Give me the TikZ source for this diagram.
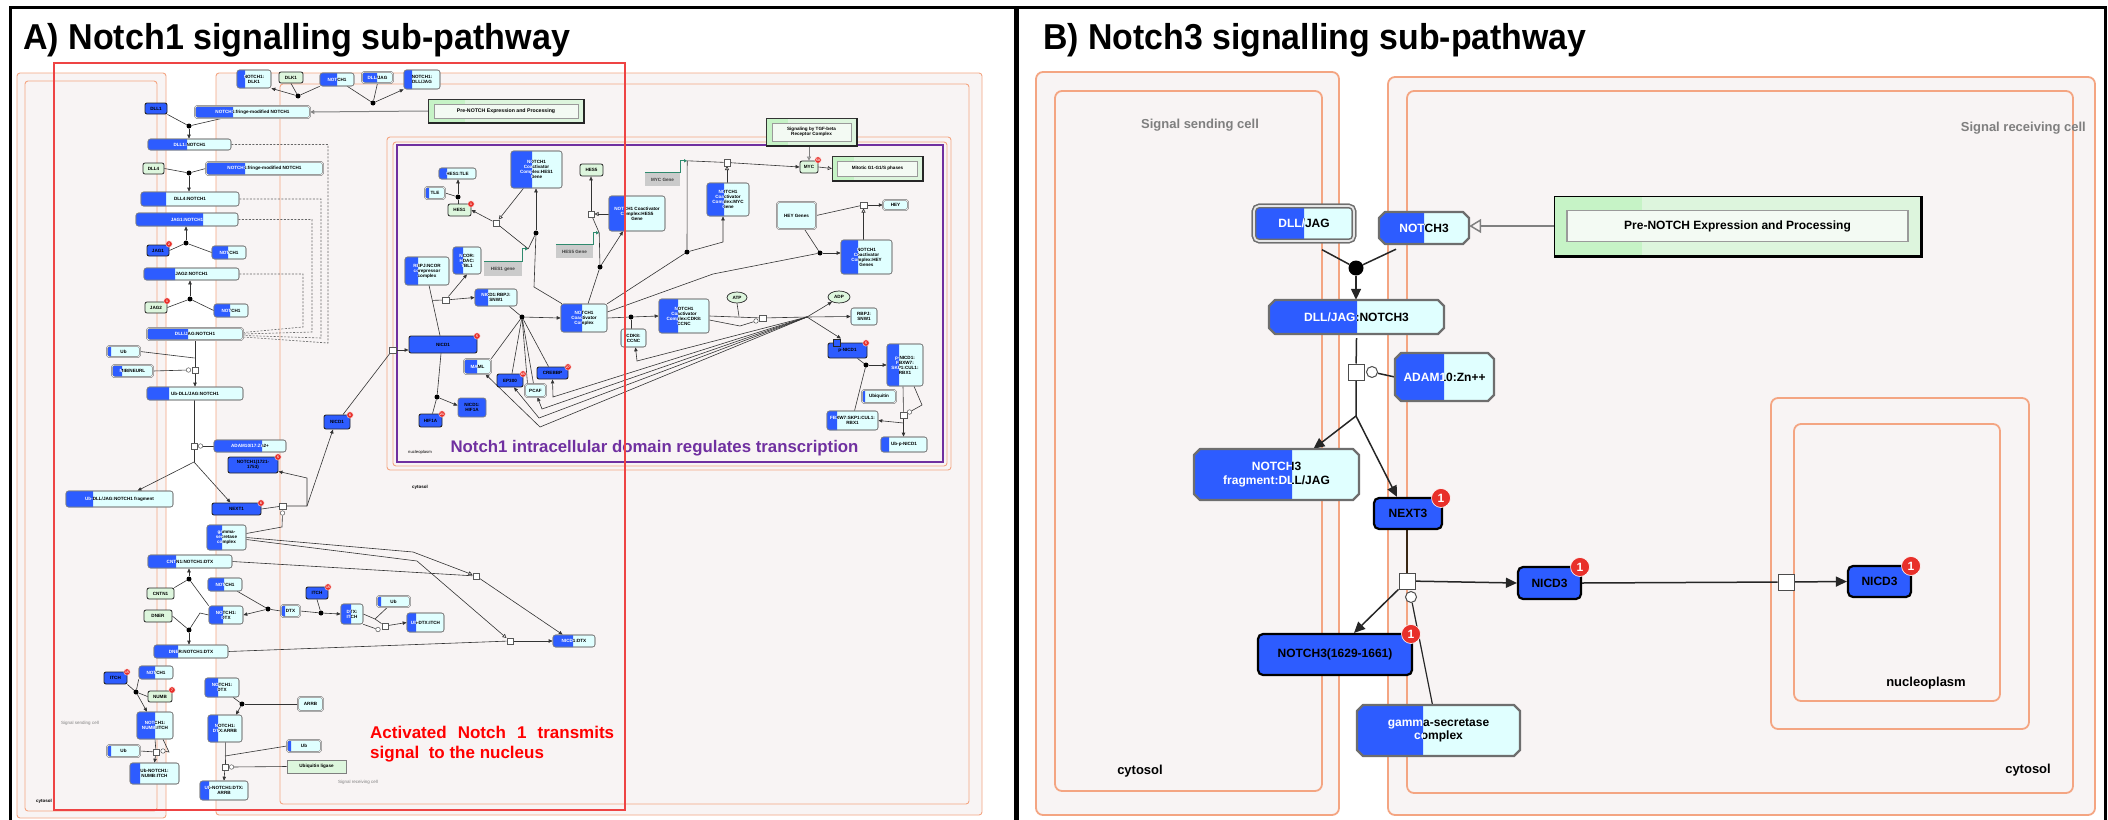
\documentclass[tikz,border=0pt]{standalone}
\usepackage{graphicx}
\usepackage{fontspec}
\setmainfont{Liberation Sans}
\usetikzlibrary{arrows.meta,shapes.misc,shapes.geometric,calc}
\pgfdeclarelayer{comps}
\pgfdeclarelayer{links}
\pgfsetlayers{comps,links,main}

\definecolor{nblue}{HTML}{2D5CFF}
\definecolor{ncyan}{HTML}{E0FFFF}
\definecolor{ngreen}{HTML}{DDF6DD}
\definecolor{egray}{HTML}{7F7F7F}
\definecolor{bgray}{HTML}{6E6E6E}
\definecolor{corange}{HTML}{F4A582}
\definecolor{cfill}{HTML}{F8F4F4}
\definecolor{bred}{HTML}{E8302A}
\definecolor{npurple}{HTML}{7030A0}
\definecolor{annred}{HTML}{EE4444}
\definecolor{genegray}{HTML}{CBCBCB}
\definecolor{flaggreen}{HTML}{2F8A6E}
\definecolor{pwa}{HTML}{C6F3C6}
\definecolor{pwb}{HTML}{DDF5DD}
\definecolor{pwi}{HTML}{F3FAF3}
\definecolor{pwig}{HTML}{9A9A9A}
\definecolor{lblgray}{HTML}{7F7F7F}

% complex / set: light body, blue left part, text white over blue, dark over light
\newcommand\ent[9]{%
  \node[#2,minimum width=#5pt,minimum height=#6pt] (#1) at (#3,#4) {};
  \begin{scope}
    \clip ({#3-#5/2-3},{#4-#6/2-3}) rectangle ({#3-#5/2+#7},{#4+#6/2+3});
    \node[#2,fill=nblue,draw=none,minimum width=#5pt,minimum height=#6pt] at (#3,#4) {};
    \node[#9,text=white] at (#3,#4) {#8};
  \end{scope}
  \begin{scope}
    \clip ({#3-#5/2+#7},{#4-#6/2-3}) rectangle ({#3+#5/2+3},{#4+#6/2+3});
    \node[#9] at (#3,#4) {#8};
  \end{scope}
  \node[#2,fill=none,minimum width=#5pt,minimum height=#6pt] at (#3,#4) {};
}
% octagonal outline, centre (#1,#2), size #3 x #4, corner cut 6
\newcommand\octpath[4]{({#1-#3/2+6},{#2-#4/2}) -- ({#1+#3/2-6},{#2-#4/2}) -- ({#1+#3/2},{#2-#4/2+6}) -- ({#1+#3/2},{#2+#4/2-6}) -- ({#1+#3/2-6},{#2+#4/2}) -- ({#1-#3/2+6},{#2+#4/2}) -- ({#1-#3/2},{#2+#4/2-6}) -- ({#1-#3/2},{#2-#4/2+6}) -- cycle}
% octagonal complex
\newcommand\oent[8]{%
  \node[rectangle,draw=none,inner sep=0pt,minimum width=#5pt,minimum height=#6pt] (#1) at (#3,#4) {};
  \fill[ncyan] \octpath{#3}{#4}{#5}{#6};
  \begin{scope}
    \clip ({#3-#5/2-3},{#4-#6/2-3}) rectangle ({#3-#5/2+#7},{#4+#6/2+3});
    \fill[nblue] \octpath{#3}{#4}{#5}{#6};
    \node[btxt,text=white] at (#3,#4) {#8};
  \end{scope}
  \begin{scope}
    \clip ({#3-#5/2+#7},{#4-#6/2-3}) rectangle ({#3+#5/2+3},{#4+#6/2+3});
    \node[btxt] at (#3,#4) {#8};
  \end{scope}
  \draw[#2] \octpath{#3}{#4}{#5}{#6};
}
% plain entity
\newcommand\prot[7]{%
  \node[#2,minimum width=#5pt,minimum height=#6pt] (#1) at (#3,#4) {#7};
}
% count badge
\newcommand\badge[4]{\node[#1] at (#2,#3) {#4};}
% pathway box
\newcommand\pwbox[9]{%
  \node[rectangle,fill=pwb,draw=none,inner sep=0pt,minimum width=#4pt,minimum height=#5pt] (#1) at (#2,#3) {};
  \fill[pwa] ({#2-#4/2},{#3-#5/2}) rectangle ({#2-#4/2+#4*0.24},{#3+#5/2});
  \draw[pwedge] ({#2-#4/2},{#3-#5/2}) rectangle ({#2+#4/2},{#3+#5/2});
  \draw[pwshadow] ({#2+#4/2},{#3-#5/2}) -- ({#2+#4/2},{#3+#5/2}) -- ({#2-#4/2},{#3+#5/2});
  \node[rectangle,draw=pwig,fill=pwi,inner sep=0pt,minimum width=#6pt,minimum height=#7pt,#9] at (#2,#3) {#8};
}

\tikzset{
  % panel A
  acomp/.style={draw=corange,fill=cfill,line width=0.9pt,rounded corners=3pt},
  atxt/.style={font=\fontsize{4.6}{5}\selectfont\bfseries,align=center,inner sep=0pt,text=black},
  abox/.style={rectangle,rounded corners=2.5pt,draw=egray,line width=0.6pt,fill=ncyan,inner sep=0pt},
  aset/.style={abox,double=white,double distance=0.5pt,line width=0.5pt},
  aprot/.style={rectangle,rounded corners=2pt,draw=black!85,line width=0.9pt,fill=nblue,inner sep=0pt,atxt},
  aprotg/.style={rectangle,rounded corners=2.5pt,draw=egray,line width=0.8pt,fill=nblue,inner sep=0pt,atxt},
  agreen/.style={rectangle,rounded corners=2pt,draw=black!85,line width=0.8pt,fill=ngreen,inner sep=0pt,atxt},
  agreenL/.style={rectangle,draw=egray,line width=0.7pt,fill=ngreen,inner sep=0pt,atxt},
  aell/.style={ellipse,draw=black!85,line width=0.7pt,fill=ngreen,inner sep=0pt,atxt},
  gene/.style={rectangle,fill=genegray,draw=none,inner sep=0pt,atxt,text=black!75},
  flag/.style={draw=flaggreen,line width=0.8pt,-{Triangle[open,length=3pt,width=3pt]}},
  abadge/.style={circle,fill=bred,draw=white,line width=0.3pt,inner sep=0pt,minimum size=6.5pt,text=white,font=\fontsize{3.4}{3.4}\selectfont\bfseries},
  adot/.style={circle,fill=black,inner sep=0pt,minimum size=5pt},
  asq/.style={rectangle,draw=black!65,fill=white,line width=0.5pt,inner sep=0pt,minimum size=6.5pt},
  acirc/.style={circle,draw=black!65,fill=white,line width=0.5pt,inner sep=0pt,minimum size=4.5pt},
  aln/.style={draw=black!80,line width=0.6pt},
  aar/.style={aln,-{Triangle[length=4pt,width=3.4pt]}},
  aopen/.style={aln,-{Triangle[open,length=4pt,width=4pt]}},
  adash/.style={draw=black!60,line width=0.6pt,dash pattern=on 2pt off 1.5pt},
  alabel/.style={font=\fontsize{4.5}{5}\selectfont,text=lblgray,inner sep=0pt},
  apwtxt/.style={atxt,line width=0.5pt},
  apretxt/.style={atxt,font=\fontsize{5.2}{5.6}\selectfont\bfseries,line width=0.5pt},
  % panel B
  bcomp/.style={draw=corange,fill=cfill,line width=1.8pt,rounded corners=7pt},
  btxt/.style={font=\fontsize{12}{13.5}\selectfont\bfseries,align=center,inner sep=0pt,text=black},
  boct/.style={draw=bgray,line width=2.4pt,line join=round},
  bset/.style={rectangle,rounded corners=5pt,draw=bgray,line width=1.4pt,double=white!80!gray,double distance=1.8pt,fill=ncyan,inner sep=0pt},
  bprot/.style={rectangle,rounded corners=5pt,draw=black,line width=2.2pt,fill=nblue,inner sep=0pt,btxt},
  bbadge/.style={circle,fill=bred,draw=white,line width=0.6pt,inner sep=0pt,minimum size=19pt,text=white,font=\fontsize{12}{12}\selectfont\bfseries},
  bdot/.style={circle,fill=black,inner sep=0pt,minimum size=15pt},
  bsq/.style={rectangle,draw=black!70,fill=white,line width=1pt,inner sep=0pt,minimum size=16pt},
  bcirc/.style={circle,draw=black!70,fill=white,line width=1pt,inner sep=0pt,minimum size=11pt},
  bln/.style={draw=black!85,line width=1.5pt},
  bar/.style={bln,-{Triangle[length=11pt,width=10pt]}},
  bopen/.style={draw=gray,line width=2.6pt,-{Triangle[open,length=12pt,width=14pt,line width=1.5pt]}},
  blbl/.style={font=\fontsize{13}{14}\selectfont\bfseries,inner sep=0pt},
  bpwtxt/.style={btxt,line width=1.4pt},
}

\begin{document}
\begin{tikzpicture}[x=1pt,y=-1pt]
\useasboundingbox (0,0) rectangle (2108,819);

% ---------------- compartments ----------------
\begin{pgfonlayer}{comps}
  \fill[white] (0,0) rectangle (2108,819);
  % panel A
  \draw[acomp] (17,73) rectangle (166,818);
  \draw[acomp] (25,81) rectangle (157,811);
  \draw[acomp] (216,73) rectangle (982,815);
  \draw[acomp] (280,84) rectangle (969,804);
  \draw[acomp] (387,137) rectangle (951,470);
  \draw[acomp] (393,142) rectangle (947,466);
  \draw[draw=npurple,line width=1.3pt] (397,145) rectangle (943,462);
  % panel B
  \draw[bcomp] (1036,72) rectangle (1339,815);
  \draw[bcomp] (1055,91) rectangle (1322,791);
  \draw[bcomp] (1388,77) rectangle (2095,815);
  \draw[bcomp] (1407,91) rectangle (2073,793);
  \draw[bcomp] (1771,398) rectangle (2029,729);
  \draw[bcomp] (1794,424) rectangle (2000,701);
\end{pgfonlayer}

% frames
\draw[line width=3pt] (10,830) -- (10,7) -- (2105,7) -- (2105,830);
\draw[line width=5pt] (1016,7) -- (1016,830);

% titles
\node[anchor=base west,inner sep=0pt] (ttlA) at (23,49.5)
  {\scalebox{0.946}[1]{\fontsize{36}{36}\selectfont\bfseries A) Notch1 signalling sub-pathway}};
\node[anchor=base west,inner sep=0pt] (ttlB) at (1043,49.5)
  {\scalebox{0.94}[1]{\fontsize{36}{36}\selectfont\bfseries B) Notch3 signalling sub-pathway}};

% ---------------- panel A labels ----------------
\node[alabel] (lA1) at (80,723) {Signal sending cell};
\node[alabel,text=black,font=\fontsize{4.5}{5}\selectfont\bfseries] (lA2) at (44,801) {cytosol};
\node[alabel] (lA3) at (358,782) {Signal receiving cell};
\node[alabel,text=black,font=\fontsize{4.5}{5}\selectfont\bfseries] (lA4) at (420,487) {cytosol};
\node[alabel,text=black,font=\fontsize{4.2}{5}\selectfont] (lA5) at (420,452) {nucleoplasm};
\node[anchor=base,inner sep=0pt,text=npurple,font=\fontsize{16.8}{18}\selectfont\bfseries] (ttlN) at (654.5,452)
  {Notch1 intracellular domain regulates transcription};

% ---------------- panel A entities ----------------
\ent{aN1DLK1}{abox}{254}{79}{34}{18}{8}{NOTCH1:\\DLK1}{atxt}
\prot{aDLK1}{agreen}{291}{77.5}{24}{11}{DLK1}
\ent{aN1a}{abox}{337}{79.5}{34}{13}{17}{NOTCH1}{atxt}
\ent{aDJa}{aset}{377.5}{77.5}{31}{11}{15}{DLL/JAG}{atxt}
\ent{aN1DJ}{abox}{422}{79.5}{36}{19}{8}{NOTCH1:\\DLL/JAG}{atxt}
\ent{aFr1}{aset}{252.5}{112}{115}{12}{38}{NOTCH1:fringe-modified NOTCH1}{atxt}
\begin{scope}[pwedge/.style={draw=black!80,line width=0.5pt},pwshadow/.style={draw=black!85,line width=1.3pt}]
  \pwbox{aPre}{506}{111}{156}{24}{144}{14}{Pre-NOTCH Expression and Processing}{apretxt}
  \pwbox{aTGF}{811.5}{132}{91}{28}{79}{18}{Signaling by TGF-beta\\Receptor Complex}{apwtxt}
  \pwbox{aMit}{877.5}{168.5}{91}{25}{80}{15}{Mitotic G1-G1/S phases}{apwtxt}
\end{scope}
\prot{aDLL1}{aprot}{156}{108.5}{22}{11}{DLL1}
\ent{aDLL1N1}{abox}{189.5}{144.5}{83}{11}{39}{DLL1:NOTCH1}{atxt}
\prot{aDLL4}{agreen}{153.5}{168.5}{21}{11}{DLL4}
\ent{aFr2}{aset}{264.5}{168.5}{117}{13}{39}{NOTCH1:fringe-modified NOTCH1}{atxt}
\ent{aDLL4N1}{abox}{190}{199}{98}{14}{25}{DLL4:NOTCH1}{atxt}
\ent{aJAG1N1}{abox}{187}{219.5}{102}{13}{67}{JAG1:NOTCH1}{atxt}
\prot{aJAG1}{aprot}{158}{250.5}{22}{11}{JAG1}
\ent{aN1b}{abox}{229}{252.5}{34}{13}{16}{NOTCH1}{atxt}
\ent{aJAG2N1}{abox}{191.5}{274}{95}{12}{31}{JAG2:NOTCH1}{atxt}
\prot{aJAG2}{agreen}{156}{307.5}{22}{11}{JAG2}
\ent{aN1c}{abox}{231}{310.5}{34}{13}{16}{NOTCH1}{atxt}
\ent{aDJN1}{aset}{195}{334}{96}{12}{41}{DLL/JAG:NOTCH1}{atxt}
\ent{aUb1}{aset}{123.5}{351.5}{33}{11}{4}{Ub}{atxt}
\ent{aMIB}{aset}{132.5}{371}{41}{12}{10}{MIB/NEURL}{atxt}
\ent{aUbDJN1}{abox}{195}{393.5}{96}{13}{22}{Ub-DLL/JAG:NOTCH1}{atxt}
\ent{aADAM}{abox}{250}{446}{72}{12}{48}{ADAM10/17:Zn2+}{atxt}
\prot{aN1721}{aprot}{253}{465}{50}{16}{NOTCH1(1721-\\1753)}
\ent{aUbFrag}{abox}{119.5}{499}{107}{16}{27}{Ub-DLL/JAG:NOTCH1 fragment}{atxt}
\prot{aNEXT1}{aprot}{236.5}{509}{49}{12}{NEXT1}
\prot{aNICD1c}{aprot}{337}{422}{26}{14}{NICD1}
\ent{aGS}{abox}{226.5}{537.5}{39}{25}{15}{gamma-\\secretase\\complex}{atxt}
\ent{aCNDTX}{abox}{190}{561.5}{84}{13}{28}{CNTN1:NOTCH1:DTX}{atxt}
\prot{aCNTN1}{agreen}{160.5}{593.5}{27}{11}{CNTN1}
\ent{aN1d}{abox}{225}{584.5}{34}{13}{16}{NOTCH1}{atxt}
\ent{aN1DTX}{abox}{226}{615}{34}{18}{14}{NOTCH1:\\DTX}{atxt}
\ent{aDTX}{aset}{290.5}{611}{19}{12}{4}{DTX}{atxt}
\prot{aITCH1}{aprot}{317}{593}{22}{12}{ITCH}
\ent{aDTXITCH}{abox}{352}{614}{22}{20}{10}{DTX:\\ITCH}{atxt}
\ent{aUb2}{aset}{393.5}{601.5}{33}{11}{4}{Ub}{atxt}
\ent{aUbDTXITCH}{abox}{425.5}{622.5}{37}{19}{9}{Ub-DTX:ITCH}{atxt}
\prot{aDNER}{agreen}{158}{616}{28}{12}{DNER}
\ent{aDNDTX}{abox}{191}{651.5}{74}{13}{24}{DNER:NOTCH1:DTX}{atxt}
\ent{aNICDDTX}{abox}{574}{641}{42}{12}{20}{NICD1:DTX}{atxt}
\prot{aITCH2}{aprot}{115.5}{678}{23}{12}{ITCH}
\ent{aN1e}{abox}{156}{672.5}{34}{13}{16}{NOTCH1}{atxt}
\prot{aNUMB}{agreen}{160}{696.5}{24}{11}{NUMB}
\ent{aNNI}{abox}{155}{725.5}{36}{27}{18}{NOTCH1:\\NUMB:ITCH}{atxt}
\ent{aUb3}{aset}{123.5}{751}{33}{12}{4}{Ub}{atxt}
\ent{aUbNNI}{abox}{154.5}{773.5}{49}{21}{10}{Ub-NOTCH1:\\NUMB:ITCH}{atxt}
\ent{aN1DTX2}{abox}{222}{687.5}{34}{19}{13}{NOTCH1:\\DTX}{atxt}
\ent{aARRB}{aset}{310.5}{704}{25}{14}{0}{ARRB}{atxt}
\ent{aNDA}{abox}{225}{728.5}{34}{27}{10}{NOTCH1:\\DTX:ARRB}{atxt}
\ent{aUb4}{aset}{304}{746}{34}{12}{4}{Ub}{atxt}
\prot{aUbL}{agreenL}{316.5}{766.5}{59}{13}{Ubiquitin ligase}
\ent{aUbNDA}{abox}{224}{790.5}{48}{19}{9}{Ub-NOTCH1:DTX:\\ARRB}{atxt}

% nucleus
\ent{aHES1TLE}{abox}{457.5}{173.5}{37}{11}{8}{HES1:TLE}{atxt}
\ent{aTLE}{aset}{435}{193}{20}{12}{4}{TLE}{atxt}
\prot{aHES1}{agreen}{459.5}{210}{23}{12}{HES1}
\ent{aCCHES1}{abox}{536.5}{169.5}{51}{37}{21}{NOTCH1\\Coactivator\\Complex:HES1\\Gene}{atxt}
\prot{aHES1g}{gene}{503}{269}{38}{14}{HES1 gene}
\prot{aHES5}{agreen}{591.5}{170}{23}{12}{HES5}
\ent{aCCHES5}{abox}{637}{213.5}{56}{35}{16}{NOTCH1 Coactivator\\Complex:HES5\\Gene}{atxt}
\prot{aHES5g}{gene}{574.5}{251.5}{37}{13}{HES5 Gene}
\prot{aMYCg}{gene}{662.5}{179.5}{35}{13}{MYC Gene}
\ent{aRNC}{abox}{427}{271}{44}{28}{13}{RBPJ:NCOR\\corepressor\\complex}{atxt}
\ent{aNHT}{abox}{467}{260.5}{28}{27}{10}{NCOR:\\HDAC:\\TBL1}{atxt}
\ent{aNRS}{abox}{496}{297.5}{42}{17}{13}{NICD1:RBPJ:\\SNW1}{atxt}
\ent{aCC}{abox}{584}{318}{46}{28}{21}{NOTCH1\\Coactivator\\Complex}{atxt}
\ent{aCDK8}{abox}{633.5}{338}{25}{18}{0}{CDK8:\\CCNC}{atxt}
\ent{aCCCDK}{abox}{684}{316}{50}{34}{19}{NOTCH1\\Coactivator\\Complex:CDK8:\\CCNC}{atxt}
\prot{aNICD1n}{aprot}{443}{344.5}{68}{17}{NICD1}
\ent{aMAML}{aset}{477.5}{366.5}{27}{15}{13}{MAML}{atxt}
\prot{aEP300}{aprot}{510}{380.5}{26}{13}{EP300}
\ent{aPCAF}{aset}{535.5}{390.5}{21}{13}{0}{PCAF}{atxt}
\prot{aCREBBP}{aprot}{552.5}{373}{31}{12}{CREBBP}
\prot{aHIF1A}{aprot}{430.5}{420.5}{23}{13}{HIF1A}
\prot{aNH}{aprotg}{472}{407.5}{28}{19}{NICD1:\\HIF1A}
\prot{aATP}{aell}{737}{297.5}{20}{11}{ATP}
\prot{aADP}{aell}{839}{297}{22}{12}{ADP}
\ent{aRS}{abox}{864}{316.5}{26}{17}{0}{RBPJ:\\SNW1}{atxt}
\prot{apNICD1}{aprot}{847.5}{350.5}{39}{15}{p-NICD1}
\node[aprot,rounded corners=0pt,minimum size=7pt] (apP) at (837,342.5) {};
\ent{apNF}{abox}{905}{365}{36}{42}{12}{p-NICD1:\\FBXW7:\\SKP1:CUL1:\\RBX1}{atxt}
\ent{aUbq}{aset}{879}{396.5}{34}{13}{3}{Ubiquitin}{atxt}
\ent{aFSCR}{abox}{852.5}{420.5}{51}{19}{10}{FBXW7:SKP1:CUL1:\\RBX1}{atxt}
\ent{aUbpN}{abox}{904}{444.5}{46}{15}{8}{Ub-p-NICD1}{atxt}
\prot{aMYC}{agreen}{809}{167}{18}{12}{MYC}
\ent{aCCMYC}{abox}{728}{199.5}{42}{33}{17}{NOTCH1\\Coactivator\\Complex:MYC\\Gene}{atxt}
\ent{aHEYg}{aset}{796.5}{215.5}{39}{27}{0}{HEY Genes}{atxt}
\ent{aHEY}{aset}{895.5}{205}{25}{10}{0}{HEY}{atxt}
\ent{aCCHEY}{abox}{866.5}{257}{51}{34}{17}{NOTCH1\\Coactivator\\Complex:HEY\\Genes}{atxt}

% badges
\badge{abadge}{169}{244}{2}
\badge{abadge}{167}{301}{1}
\badge{abadge}{278}{457}{5}
\badge{abadge}{261}{503}{6}
\badge{abadge}{350}{415}{6}
\badge{abadge}{328}{587}{15}
\badge{abadge}{127}{672}{15}
\badge{abadge}{172}{690}{7}
\badge{abadge}{471}{204}{1}
\badge{abadge}{477}{336}{5}
\badge{abadge}{523}{374}{65}
\badge{abadge}{568}{367}{27}
\badge{abadge}{442}{414}{21}
\badge{abadge}{866}{343}{5}
\badge{abadge}{818}{160}{50}

% reaction glyphs A
\node[adot] (d1) at (298,96) {};
\node[adot] (d2) at (373,103) {};
\node[adot] (d3) at (189,126) {};
\node[adot] (d4) at (189,173) {};
\node[adot] (d5) at (186,243) {};
\node[adot] (d6) at (190,299) {};
\node[asq] (s1) at (195,370) {};
\node[acirc] (c1) at (188.5,370) {};
\node[asq] (s2) at (194,446) {};
\node[acirc] (c2) at (200.5,446) {};
\coordinate (b1) at (194,462);
\node[asq] (s3) at (282.5,506) {};
\node[acirc] (c3) at (282.5,513) {};
\coordinate (j1) at (307,506);
\node[asq] (sq4) at (476,576) {};
\node[asq] (sq5) at (510,641) {};
\node[adot] (d7) at (189,579) {};
\node[adot] (d8) at (268,609) {};
\node[adot] (d9) at (321,613) {};
\node[asq] (sq6) at (385,626) {};
\node[acirc] (c6) at (378,629.5) {};
\coordinate (j6) at (375,619);
\node[adot] (d10) at (189,630) {};
\node[adot] (d11) at (136,692) {};
\node[asq] (sq7) at (156,752) {};
\node[acirc] (c7) at (163,751) {};
\node[adot] (d12) at (242,704) {};
\node[asq] (sq8) at (225,767) {};
\node[acirc] (c8) at (231.5,767) {};
\coordinate (j8) at (225,756);
\node[adot] (d13) at (458,197) {};
\node[asq] (sq9) at (496,223) {};
\node[adot] (d14) at (536,233) {};
\node[asq] (sq10) at (591,214) {};
\node[adot] (d15) at (600,267) {};
\node[asq] (sq15) at (727,162.5) {};
\node[adot] (d20) at (687,252) {};
\node[asq] (sq16) at (863.5,205) {};
\node[adot] (d21) at (820,253) {};
\node[asq] (sq11) at (445.5,300) {};
\node[adot] (d16) at (522,317) {};
\node[adot] (d17) at (631,317) {};
\node[asq] (sq12) at (392.5,350) {};
\node[adot] (d18) at (437,397) {};
\coordinate (hub) at (807,317);
\node[asq] (sq13) at (762.5,318) {};
\node[acirc] (c13) at (756,321) {};
\node[adot] (d19) at (866,365) {};
\node[asq] (sq14) at (903.5,415) {};
\node[acirc] (c14) at (909.5,412) {};
\coordinate (j14) at (903.5,423);

% ---------------- panel A connectors ----------------
\begin{pgfonlayer}{links}
\draw[aln] (aDLK1.south) -- (d1);
\draw[aln] (aN1a.south west) -- (d1);
\draw[aar] (d1) -- (aN1DLK1.south east);
\draw[aln] ([xshift=-7pt]aN1a.south east) -- (d2);
\draw[aln] (aDJa.south) -- (d2);
\draw[aar] (d2) -- (aN1DJ.south west);
\draw[aopen,draw=gray,line width=1pt] (aPre.west) -- (aFr1.east);
\draw[aln] (aDLL1.south east) -- (d3);
\draw[aln] ([xshift=-30pt]aFr1.south) -- (d3);
\draw[aar] (d3) -- (aDLL1N1.north -| d3);
\draw[aln] (aDLL4.east) -- (d4);
\draw[aln] (aFr2.west) -- (d4);
\draw[aar] (d4) -- (aDLL4N1.north -| d4);
\draw[aln] (aJAG1.east) -- (d5);
\draw[aln] (aN1b.west) -- (d5);
\draw[aar] (d5) -- (aJAG1N1.south -| d5);
\draw[aln] (aJAG2.east) -- (d6);
\draw[aln] (aN1c.west) -- (d6);
\draw[aar] (d6) -- (aJAG2N1.south -| d6);
\draw[adash] (aDLL1N1.east) -| (328,343) -- ([yshift=-3pt]aDJN1.east);
\draw[adash] (aDLL4N1.east) -| (321,338) -- ([yshift=-1.5pt]aDJN1.east);
\draw[adash] (aJAG1N1.east) -| (312,332) -- (aDJN1.east);
\draw[adash] (aJAG2N1.east) -| (303,327) -- ([yshift=1.5pt]aDJN1.east);
\draw[aln] (aDJN1.south) -- (s1);
\draw[aln] (aUb1.east) -- (194.5,358);
\draw[aln] (aMIB.east) -- (c1);
\draw[aar] (s1) -- (aUbDJN1.north);
\draw[aln] (aUbDJN1.south -| s2) -- (s2) -- (b1);
\draw[aln] (aADAM.west) -- (c2);
\draw[aar] (b1) -- ([xshift=18pt]aUbFrag.north);
\draw[aar] (b1) -- ([xshift=-6pt]aNEXT1.north);
\draw[aln] (aNEXT1.east) -- (s3) -- (j1);
\draw[aar] (j1) -- (307,478) -- ([yshift=2pt]aN1721.south east);
\draw[aar] (j1) -- ([xshift=-4pt]aNICD1c.south);
\draw[aln] (c3) -- (282,527) -- ([yshift=4pt]aGS.east);
\draw[aopen] (aGS.east) -- (413,552) -- (sq4);
\draw[aopen] ([yshift=-2pt]aGS.east) -- (417,561) -- (sq5);
\draw[aln] (aCNDTX.east) -- (sq4);
\draw[aar] (sq4) -- ([xshift=10pt]aNICDDTX.north west);
\draw[aln] (aDNDTX.east) -- (sq5);
\draw[aar] (sq5) -- (aNICDDTX.west);
\draw[aln] (aCNTN1.north east) -- (d7);
\draw[aln] (aN1DTX.north west) -- (d7);
\draw[aar] (d7) -- (aCNDTX.south -| d7);
\draw[aln] ([xshift=-5pt]aN1d.south east) -- (d8);
\draw[aln] (aDTX.west) -- (d8);
\draw[aar] (d8) -- (aN1DTX.east);
\draw[aln] (aDTX.east) -- (d9);
\draw[aln] (aITCH1.south) -- (d9);
\draw[aar] (d9) -- (aDTXITCH.west);
\draw[aln] (aDTXITCH.east) -- (j6) -- (sq6);
\draw[aln] ([xshift=-6pt]aUb2.south) -- (j6);
\draw[aln] (aDTXITCH.south east) -- (c6);
\draw[aar] (sq6) -- (aUbDTXITCH.west);
\draw[aln] (aDNER.east) -- (d10);
\draw[aln] (aN1DTX.west) -- (200,613) -- (d10);
\draw[aar] (d10) -- (aDNDTX.north -| d10);
\draw[aln] (aITCH2.south east) -- (d11);
\draw[aln] (aN1e.south west) -- (d11);
\draw[aln] (aNUMB.west) -- (d11);
\draw[aar] (d11) -- ([xshift=-8pt]aNNI.north);
\draw[aln] (aNNI.south) -- (sq7);
\draw[aln] (aUb3.east) -- (sq7);
\draw[aln] ([xshift=8pt]aNNI.south) -- (169,752) -- (c7);
\draw[aar] (sq7) -- (aUbNNI.north);
\draw[aln] ([xshift=11pt]aN1DTX2.south) -- (d12);
\draw[aln] (aARRB.west) -- (d12);
\draw[aar] (d12) -- ([xshift=11pt]aNDA.north);
\draw[aln] (aNDA.south) -- (j8) -- (sq8);
\draw[aln] (aUb4.west) -- (j8);
\draw[aln] (aUbL.west) -- (c8);
\draw[aar] (sq8) -- (aUbNDA.north);
% nucleus
\draw[aln] (aTLE.east) -- (d13);
\draw[aln] (aHES1.north -| d13) -- (d13);
\draw[aar] (d13) -- (aHES1TLE.south -| d13);
\draw[flag] (aHES1g.north west) -- (aHES1g.north east) -- ++(0,-13) -- ++(6,0) coordinate (fH1);
\draw[flag] (aHES5g.north west) -- (aHES5g.north east) -- ++(0,-12) -- ++(6,0) coordinate (fH5);
\draw[flag] (aMYCg.north west) -- (aMYCg.north east) -- ++(0,-12) -- ++(7,0) coordinate (fM);
\draw[aar] (sq9) -- (aHES1.east);
\draw[aopen] ([xshift=-13pt]aCCHES1.south) -- (sq9);
\draw[aln] (fH1) -- (sq9);
\draw[aln] (fH1) -- (d14);
\draw[aln] ([xshift=-22pt]aCC.north) -- (534,287) -- (d14);
\draw[aar] (d14) -- (aCCHES1.south -| d14);
\draw[aar] (sq10) -- (aHES5.south -| sq10);
\draw[aopen] (aCCHES5.west |- sq10) -- (sq10);
\draw[aln] (fH5) -- (sq10);
\draw[aln] (d15) -- (fH5);
\draw[aar] (d15) -- ([xshift=-14pt]aCCHES5.south);
\draw[aln] ([xshift=4pt]aCC.north) -- (d15);
\draw[aln] (fM) -- (sq15);
\draw[aar] (sq15) -- (aMYC.west);
\draw[aopen] (aCCMYC.north -| sq15) -- (sq15);
\draw[aln] (d20) -- (fM);
\draw[aar] (d20) -- (723,242) -- ([xshift=-5pt]aCCMYC.south);
\draw[aln] (aCC.north east) -- (d20);
\draw[aopen,draw=gray,line width=0.8pt] (aTGF.south -| aMYC) -- (aMYC.north);
\draw[aopen] (aMYC.east) -- (aMit.west);
\draw[aln] (aHEYg.east) -- (sq16);
\draw[aar] (sq16) -- (aHEY.west);
\draw[aopen] (aCCHEY.north -| sq16) -- (sq16);
\draw[aln] ([xshift=8pt]aHEYg.south) -- (d21);
\draw[aar] (d21) -- (aCCHEY.west |- d21);
\draw[aln] ([yshift=6pt]aCC.east) -- (713,274) -- (d21);
\draw[aln] ([xshift=2pt]aRNC.south) -- ([xshift=-3pt]aNICD1n.north);
\draw[aln] ($([xshift=2pt]aRNC.south)!0.3!([xshift=-3pt]aNICD1n.north)$) -- (sq11);
\draw[aar] (sq11) -- (aNHT.south);
\draw[aar] (sq11) -- (aNRS.west);
\draw[aln] ([xshift=-8pt]aNRS.south east) -- (d16);
\draw[aar] (d16) -- (aCC.west);
\draw[aln] (d16) -- (aMAML.north east);
\draw[aln] (d16) -- ([xshift=2pt]aEP300.north);
\draw[aln] (d16) -- ([xshift=-8pt]aPCAF.north);
\draw[aln] (d16) -- ([xshift=-2pt]aPCAF.north);
\draw[aln] (d16) -- ([xshift=-4pt]aCREBBP.north);
\draw[aln] (aCC.east) -- (d17);
\draw[aln] (aCDK8.north -| d17) -- (d17);
\draw[aar] (d17) -- (aCCCDK.west);
\draw[aln] ([xshift=6pt]aNICD1c.north) -- (sq12);
\draw[aar] (sq12) -- (aNICD1n.west |- sq12);
\draw[aln] ([xshift=-2pt]aNICD1n.south) -- (d18);
\draw[aln] ([xshift=2pt]aHIF1A.north) -- (d18);
\draw[aar] (d18) -- ([yshift=2pt]aNH.west);
\draw[aln] (aCCCDK.east) -- (sq13) -- (hub);
\draw[aln] (aATP.south) -- (739,316.5);
\draw[aln] ([yshift=-4pt]aCCCDK.east) -- (740,326) -- (c13);
\draw[aar] (hub) -- (aADP.215);
\draw[aar] (hub) -- (aRS.west);
\draw[aar] (hub) -- (apP.north east);
\draw[aar] (hub) -- (637,361) -- ([xshift=2pt]aCDK8.south);
\draw[aar] (hub) -- (553,397) -- (aCREBBP.south);
\draw[aar] (hub) -- (542,409) -- ([xshift=2pt]aPCAF.south);
\draw[aar] (hub) -- (539,418) -- ([xshift=4pt]aEP300.south);
\draw[aar] (hub) -- (540,427) -- ([xshift=8pt]aMAML.south);
\draw[aln] ([xshift=10pt]apNICD1.south) -- (d19);
\draw[aln] ([xshift=2pt]aFSCR.north) -- (d19);
\draw[aar] (d19) -- (apNF.west);
\draw[aln] ([xshift=-2pt]apNF.south) -- (sq14);
\draw[aar] (sq14) -- (aUbpN.north -| sq14);
\draw[aar] (j14) -- (aFSCR.east);
\draw[aln] ([xshift=9pt]apNF.south) -- (922,405) -- (c14);
\end{pgfonlayer}

% annotation
\draw[annred,line width=1.5pt] (54,63) rectangle (625,810);
\node[anchor=base west,inner sep=0pt,text=red,font=\fontsize{17}{20}\selectfont\bfseries] (ann1) at (370,738)
  {\makebox[244pt][s]{Activated Notch 1 transmits}};
\node[anchor=base west,inner sep=0pt,text=red,font=\fontsize{17}{20}\selectfont\bfseries] (ann2) at (370,758)
  {signal~~to the nucleus};

% ---------------- panel B ----------------
\node[blbl,text=lblgray] (lB1) at (1200,125) {Signal sending cell};
\node[blbl] (lB2) at (1140,771) {cytosol};
\node[blbl,text=lblgray,anchor=east] (lB3) at (2086,128) {Signal receiving cell};
\node[blbl] (lB4) at (2028,770) {cytosol};
\node[blbl] (lB5) at (1926,683) {nucleoplasm};

\ent{bDJ}{bset}{1304}{223.5}{100}{35}{50}{DLL/JAG}{btxt}
\oent{bN3}{boct}{1424}{228}{90}{32}{45}{NOTCH3}
\begin{scope}[pwedge/.style={draw=black,line width=1pt},pwshadow/.style={draw=black,line width=3pt}]
  \pwbox{bPre}{1737.5}{226}{367}{60}{341}{31}{Pre-NOTCH Expression and Processing}{bpwtxt}
\end{scope}
\oent{bDJN3}{boct}{1356.5}{317}{175}{34}{88}{DLL/JAG:NOTCH3}
\oent{bADAM}{boct}{1444.5}{377}{99}{48}{49}{ADAM10:Zn++}
\oent{bFrag}{boct}{1276.5}{474.5}{165}{51}{98}{NOTCH3\\fragment:DLL/JAG}
\prot{bNEXT3}{bprot}{1408}{513.5}{68}{31}{NEXT3}
\prot{bNICD3a}{bprot}{1549.5}{583}{63}{32}{NICD3}
\prot{bNICD3b}{bprot}{1879.5}{581.5}{63}{31}{NICD3}
\prot{bN3f}{bprot}{1335}{654.5}{154}{41}{NOTCH3(1629-1661)}
\oent{bGS}{boct}{1438.5}{730.5}{163}{51}{66}{gamma-secretase\\complex}
\badge{bbadge}{1441}{498}{1}
\badge{bbadge}{1580}{567}{1}
\badge{bbadge}{1911}{566}{1}
\badge{bbadge}{1411}{634}{1}

\node[bdot] (bd1) at (1356,268) {};
\node[bsq] (bs1) at (1356,372) {};
\node[bcirc] (bc1) at (1372,372) {};
\coordinate (bb1) at (1356,416);
\node[bsq] (bs2) at (1407,581) {};
\node[bcirc] (bc2) at (1411,597) {};
\node[bsq] (bs3) at (1786,582) {};

\begin{pgfonlayer}{links}
\draw[bln] ([xshift=18pt,yshift=-8pt]bDJ.south) -- (bd1);
\draw[bln] ([xshift=-28pt,yshift=-5pt]bN3.south) -- (bd1);
\draw[bar] (bd1) -- (bDJN3.north -| bd1);
\draw[bln] ([yshift=-4pt]bDJN3.south) -- (bs1) -- (bb1);
\draw[bln] (bADAM.west) -- (bc1);
\draw[bar] (bb1) -- ([xshift=37pt]bFrag.north);
\draw[bar] (bb1) -- ([xshift=-11pt]bNEXT3.north);
\draw[bln,draw=black!70!brown] (bNEXT3.south -| bs2) -- (bs2);
\draw[bar] (bs2) -- (bNICD3a.west);
\draw[bar] (bs2) -- ([xshift=19pt]bN3f.north);
\draw[bln,line width=1.2pt] (bc2) -- ([xshift=-6pt]bGS.north);
\draw[bln] (bNICD3a.east) -- (bs3);
\draw[bar] (bs3) -- (bNICD3b.west);
\draw[bopen] (bPre.west) -- (bN3.east |- bPre.west);
\end{pgfonlayer}

\end{tikzpicture}
\end{document}
